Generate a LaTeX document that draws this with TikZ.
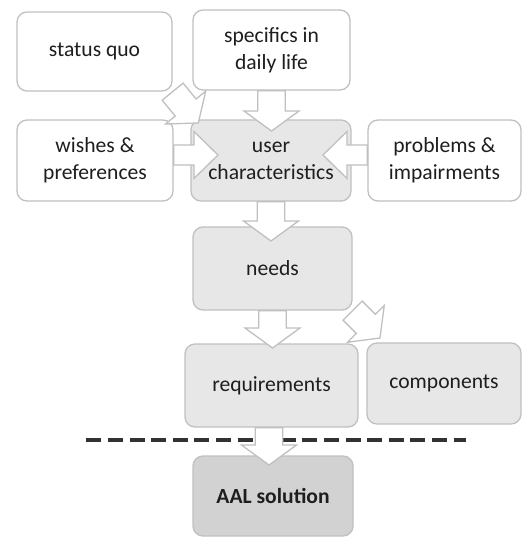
\documentclass[tikz,border=0pt]{standalone}
\usepackage{fontspec}
\setmainfont{Carlito}
\usetikzlibrary{calc}

\definecolor{edgegray}{RGB}{192,192,192}
\definecolor{boxgray}{RGB}{231,231,231}
\definecolor{darkbox}{RGB}{210,210,210}
\definecolor{txt}{RGB}{30,30,30}
\definecolor{dashcol}{RGB}{50,50,50}

\tikzset{
  card/.style={draw=edgegray, line width=1.3pt, rounded corners=10pt, fill=white,
    align=center, text=txt, font=\fontsize{21.6}{27}\selectfont, inner sep=0pt},
  shaded/.style={card, fill=boxgray},
  darkcard/.style={card, fill=darkbox},
  blockarrow/.style={draw=edgegray, line width=1.3pt, fill=white, line join=miter},
  divider/.style={draw=dashcol, line width=3.2pt, dash pattern=on 15pt off 6.6pt},
}

% hollow block arrow: tail, tip, shaft half width, head half width, head length
\newcommand\blockarrow[5]{%
  \draw[blockarrow]
    ($(#1)!#3!90:(#2)$) --
    ($(#2)!#5!(#1)!#3!90:(#2)$) --
    ($(#2)!#5!(#1)!#4!90:(#2)$) --
    (#2) --
    ($(#2)!#5!(#1)!#4!-90:(#2)$) --
    ($(#2)!#5!(#1)!#3!-90:(#2)$) --
    ($(#1)!#3!-90:(#2)$) -- cycle;%
}

\begin{document}
\begin{tikzpicture}[x=1pt, y=-1pt]
  \useasboundingbox (0,0) rectangle (522,538);

  % boxes
  \node[card, minimum width=155pt, minimum height=79pt] (sq) at (94.5,51.5) {status quo};
  \node[card, minimum width=157pt, minimum height=80pt] (sp) at (271.5,50) {specifics in\\daily life};
  \node[card, minimum width=156pt, minimum height=81pt] (wi) at (95,160.5) {wishes \&\\preferences};
  \node[shaded, minimum width=160pt, minimum height=81pt] (uc) at (271,160.5) {user\\characteristics};
  \node[card, minimum width=153pt, minimum height=81pt] (pi) at (444.5,160.5) {problems \&\\impairments};
  \node[shaded, minimum width=159pt, minimum height=83pt] (ne) at (272.5,268.5) {needs};
  \node[shaded, minimum width=173pt, minimum height=83pt] (re) at (271.5,385.5) {requirements};
  \node[shaded, minimum width=154pt, minimum height=81pt] (co) at (444,383.5) {components};
  \node[darkcard, minimum width=160pt, minimum height=80pt, font=\fontsize{21.6}{27}\selectfont\bfseries] (aal) at (273,496) {AAL solution};

  % dashed divider
  \coordinate (dl) at (86.4,440);
  \coordinate (dr) at (466,440);
  \draw[divider] (dl) -- (dr);

  % arrow tips and tails
  \coordinate (t1) at (271.5,131);
  \coordinate (t2) at (271,241);
  \coordinate (t3) at (272.5,348);
  \coordinate (t4) at (269,465);
  \coordinate (t5) at (218,155);
  \coordinate (t6) at (323,155);
  \coordinate (t7) at (198.3,123);
  \coordinate (t8) at (380,338);
  \coordinate (s4) at ($(re.south)+(-2.5,0)$);
  \coordinate (s5) at ($(wi.east)+(0,-5.5)$);
  \coordinate (s6) at ($(pi.west)+(0,-5.5)$);

  % vertical arrows
  \blockarrow{sp.south}{t1}{13.75pt}{27.5pt}{20pt}
  \blockarrow{uc.south}{t2}{13.75pt}{27.5pt}{20pt}
  \blockarrow{ne.south}{t3}{13.75pt}{27.5pt}{20pt}
  \blockarrow{s4}{t4}{13.75pt}{27.5pt}{20pt}

  % side arrows
  \blockarrow{s5}{t5}{10pt}{23.5pt}{24pt}
  \blockarrow{s6}{t6}{10pt}{23.5pt}{24pt}

  % diagonal arrows
  \blockarrow{sq.south east}{t7}{13.5pt}{26pt}{20pt}
  \blockarrow{ne.south east}{t8}{13.5pt}{26pt}{20pt}
\end{tikzpicture}
\end{document}
